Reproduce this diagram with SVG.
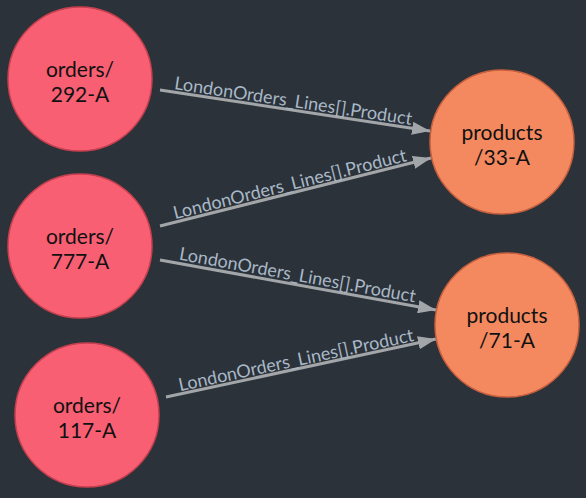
<svg xmlns="http://www.w3.org/2000/svg" width="586" height="498" viewBox="0 0 586 498">
<defs>
<marker id="arr" markerWidth="6" markerHeight="4.4" refX="6" refY="2.2" orient="auto" markerUnits="strokeWidth">
<path d="M0,0 L6,2.2 L0,4.4 z" fill="#a3a6a9"/>
</marker>
<style>
.bg{fill:#2b323a}
.ord{fill:#f85f73;stroke:#c8404f;stroke-width:1.5}
.prd{fill:#f4895f;stroke:#c8603e;stroke-width:1.5}
.nt{font-family:Lato,"Liberation Sans",sans-serif;font-size:21px;fill:#111;text-anchor:middle}
.edge{stroke:#a3a6a9;stroke-width:3;fill:none;marker-end:url(#arr)}
.el{font-family:Lato,"Liberation Sans",sans-serif;font-size:18px;fill:#a9b8c6;text-anchor:middle}
</style>
</defs>
<rect class="bg" width="586" height="498"/>
<g id="connectors">
<line class="edge" x1="160" y1="90" x2="430" y2="131"/>
<text class="el" transform="translate(292,110) rotate(8.6)" y="-3">LondonOrders_Lines[].Product</text>
<line class="edge" x1="160" y1="226" x2="431" y2="158"/>
<text class="el" transform="translate(292,193) rotate(-14.1)" y="-3">LondonOrders_Lines[].Product</text>
<line class="edge" x1="160" y1="260" x2="436" y2="310"/>
<text class="el" transform="translate(296,284) rotate(10.3)" y="-3">LondonOrders_Lines[].Product</text>
<line class="edge" x1="166" y1="397" x2="436" y2="339"/>
<text class="el" transform="translate(298,369) rotate(-12.1)" y="-3">LondonOrders_Lines[].Product</text>
</g>
<g id="orders-292-A">
<circle class="ord" cx="80" cy="79" r="72"/>
<text class="nt" x="80" y="77">orders/</text>
<text class="nt" x="80" y="102">292-A</text>
</g>
<g id="orders-777-A">
<circle class="ord" cx="80" cy="246" r="72"/>
<text class="nt" x="80" y="244">orders/</text>
<text class="nt" x="80" y="269">777-A</text>
</g>
<g id="orders-117-A">
<circle class="ord" cx="87" cy="415" r="72"/>
<text class="nt" x="87" y="413">orders/</text>
<text class="nt" x="87" y="438">117-A</text>
</g>
<g id="products-33-A">
<circle class="prd" cx="502" cy="142" r="72"/>
<text class="nt" x="502" y="140">products</text>
<text class="nt" x="502" y="165">/33-A</text>
</g>
<g id="products-71-A">
<circle class="prd" cx="507" cy="325" r="72"/>
<text class="nt" x="507" y="323">products</text>
<text class="nt" x="507" y="348">/71-A</text>
</g>
</svg>
